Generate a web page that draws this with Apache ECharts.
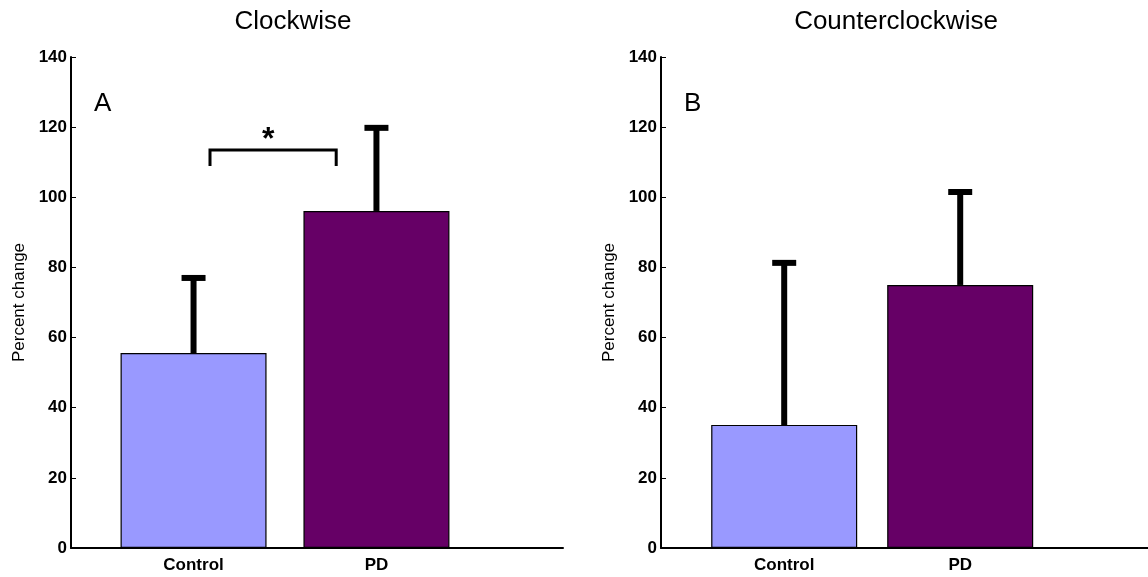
<!DOCTYPE html>
<html>
<head>
<meta charset="utf-8">
<style>
  html, body { margin: 0; padding: 0; background: #fff; }
  #chart { width: 1148px; height: 577px; }
</style>
<script src="https://cdn.jsdelivr.net/npm/echarts@6/dist/echarts.min.js"></script>
</head>
<body>
<div id="chart"></div>
<script>
// Group labels and their x positions on the value axis
const groups = ['Control', 'PD'];
const groupPos = [1, 2];

// Panel titles and letters
const panelTitles = ['Clockwise', 'Counterclockwise'];
const panelLetters = ['A', 'B'];

// Mean percent change and upper error limit (mean + SD)
const clockwiseMean = [55.6, 96.1];
const clockwiseUpper = [77.0, 119.8];
const counterMean = [35.1, 75.0];
const counterUpper = [81.3, 101.5];

// Significance bracket in panel A (x span, top, leg bottom)
const sigBracketX = [1.09, 1.78];
const sigBracketY = [113.5, 108.9];
const sigMark = '*';

const yTicks = [0, 20, 40, 60, 80, 100, 120, 140];

const barColors = ['#9999FF', '#660066'];
const FONT = 'Liberation Sans, Arial, sans-serif';

const chart = echarts.init(document.getElementById('chart'));

function xAxisFor(i, min, max) {
  return {
    gridIndex: i,
    type: 'value',
    min: min,
    max: max,
    splitLine: { show: false },
    axisLine: { show: true, onZero: false, lineStyle: { color: '#000', width: 2 } },
    axisTick: { show: false },
    axisLabel: {
      customValues: groupPos,
      formatter: v => groups[groupPos.indexOf(v)] || '',
      color: '#000',
      fontFamily: FONT,
      fontWeight: 'bold',
      fontSize: 17,
      margin: 9
    }
  };
}

function yAxisFor(i) {
  return {
    gridIndex: i,
    type: 'value',
    min: 0,
    max: 140,
    interval: 20,
    name: 'Percent change',
    nameLocation: 'middle',
    nameGap: 43,
    nameTextStyle: { color: '#000', fontFamily: FONT, fontSize: 17 },
    splitLine: { show: false },
    axisLine: { show: true, lineStyle: { color: '#000', width: 2 } },
    axisTick: { show: true, inside: true, length: 5, lineStyle: { color: '#000', width: 1 } },
    axisLabel: {
      color: '#000',
      fontFamily: FONT,
      fontWeight: 'bold',
      fontSize: 17,
      margin: 4,
      formatter: v => (yTicks.indexOf(v) >= 0 ? String(v) : '')
    }
  };
}

function barSeries(i, means) {
  return {
    type: 'bar',
    xAxisIndex: i,
    yAxisIndex: i,
    barWidth: 146,
    data: means.map((m, k) => ({
      value: [groupPos[k], m],
      itemStyle: { color: barColors[k], borderColor: '#000', borderWidth: 1.2 }
    })),
    z: 2
  };
}

function errorSeries(i, means, uppers) {
  return {
    type: 'custom',
    xAxisIndex: i,
    yAxisIndex: i,
    z: 3,
    data: means.map((m, k) => [groupPos[k], m, uppers[k]]),
    renderItem: function (params, api) {
      const base = api.coord([api.value(0), api.value(1)]);
      const top = api.coord([api.value(0), api.value(2)]);
      const capHalf = 12;
      const style = { stroke: '#000', lineWidth: 6 };
      return {
        type: 'group',
        children: [
          { type: 'line', shape: { x1: base[0], y1: base[1], x2: top[0], y2: top[1] + 2 }, style: style },
          { type: 'line', shape: { x1: top[0] - capHalf, y1: top[1], x2: top[0] + capHalf, y2: top[1] }, style: style }
        ]
      };
    }
  };
}

const bracketSeries = {
  type: 'custom',
  xAxisIndex: 0,
  yAxisIndex: 0,
  z: 3,
  data: [[sigBracketX[0], sigBracketX[1], sigBracketY[0], sigBracketY[1]]],
  renderItem: function (params, api) {
    const tl = api.coord([api.value(0), api.value(2)]);
    const tr = api.coord([api.value(1), api.value(2)]);
    const bl = api.coord([api.value(0), api.value(3)]);
    const br = api.coord([api.value(1), api.value(3)]);
    return {
      type: 'group',
      children: [
        {
          type: 'polyline',
          shape: { points: [bl, tl, tr, br] },
          style: { stroke: '#000', lineWidth: 3, fill: null, lineJoin: 'miter' }
        },
        {
          type: 'text',
          style: {
            text: sigMark,
            x: (tl[0] + tr[0]) / 2 - 5,
            y: tl[1] + 6,
            align: 'center',
            verticalAlign: 'bottom',
            font: 'bold 32px ' + FONT,
            fill: '#000'
          }
        }
      ]
    };
  }
};

const option = {
  backgroundColor: '#fff',
  animation: false,
  title: [
    { text: panelTitles[0], left: 288, top: 4, textAlign: 'center',
      textStyle: { fontFamily: FONT, fontWeight: 'normal', fontSize: 26, color: '#000' } },
    { text: panelTitles[1], left: 891, top: 4, textAlign: 'center',
      textStyle: { fontFamily: FONT, fontWeight: 'normal', fontSize: 26, color: '#000' } },
    { text: panelLetters[0], left: 89, top: 86,
      textStyle: { fontFamily: FONT, fontWeight: 'normal', fontSize: 26, color: '#000' } },
    { text: panelLetters[1], left: 679, top: 86,
      textStyle: { fontFamily: FONT, fontWeight: 'normal', fontSize: 26, color: '#000' } }
  ],
  grid: [
    { left: 71, top: 57, width: 492, height: 491 },
    { left: 661, top: 57, width: 487, height: 491 }
  ],
  xAxis: [xAxisFor(0, 0.33, 3.02), xAxisFor(1, 0.30, 3.067)],
  yAxis: [yAxisFor(0), yAxisFor(1)],
  series: [
    barSeries(0, clockwiseMean),
    errorSeries(0, clockwiseMean, clockwiseUpper),
    bracketSeries,
    barSeries(1, counterMean),
    errorSeries(1, counterMean, counterUpper)
  ]
};

chart.setOption(option);
</script>
</body>
</html>
